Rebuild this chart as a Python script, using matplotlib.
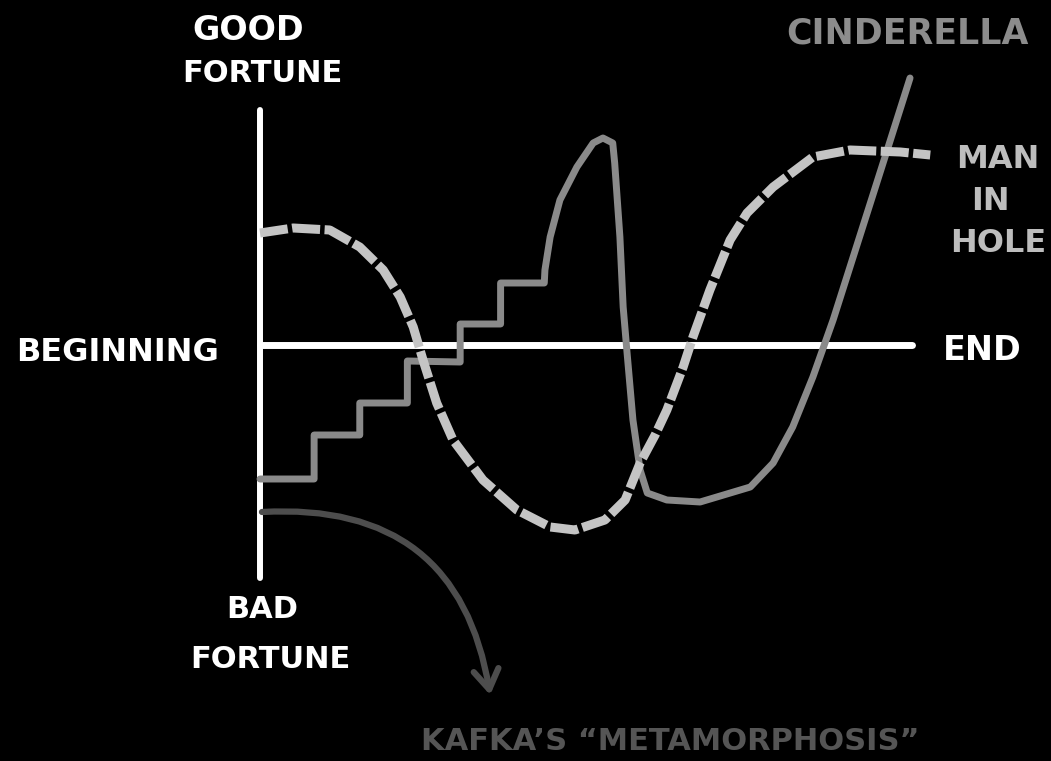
import numpy as np
import matplotlib.pyplot as plt

# story time runs 0 (beginning) -> 100 (end); fortune is + good / - bad
man_hole_t = [0, 5.1, 10.7, 15.3, 18.9, 21.5, 23.5, 25.0, 27.1, 29.6, 34.2, 39.4, 44.5,
              48.3, 52.9, 56.0, 58.3, 60.6, 62.4, 64.9, 66.4, 69.0, 72.1, 74.7, 78.7,
              84.8, 90.5, 98.2, 102.8]
man_hole_f = [1.12, 1.17, 1.15, 0.98, 0.75, 0.48, 0.18, -0.15, -0.58, -0.95, -1.35, -1.65,
              -1.82, -1.85, -1.75, -1.55, -1.18, -0.90, -0.65, -0.22, 0.08, 0.55, 1.05,
              1.32, 1.58, 1.88, 1.95, 1.93, 1.90]

cinderella_t = [0, 8.3, 8.3, 15.3, 15.3, 22.6, 22.6, 30.7, 30.7, 36.9, 36.9, 43.6,
                43.7, 44.5, 46.0, 48.6, 51.1, 52.6, 54.1, 54.4, 55.2, 55.7, 56.3, 57.2,
                58.3, 59.4, 62.4, 67.5, 75.2, 78.7, 81.7, 84.8, 87.9, 96.2, 99.7]
cinderella_f = [-1.34, -1.34, -0.90, -0.90, -0.58, -0.58, -0.16, -0.17, 0.21, 0.21, 0.62,
                0.62, 0.75, 1.08, 1.45, 1.78, 2.02, 2.07, 2.02, 1.82, 1.08, 0.38, -0.08,
                -0.75, -1.25, -1.48, -1.55, -1.57, -1.42, -1.18, -0.82, -0.32, 0.25, 1.95,
                2.67]

kafka_start = (0.3, -1.67)
kafka_end = (35.3, -3.50)

fortune_top, fortune_bottom = 2.35, -2.33

fig = plt.figure(figsize=(10.51, 7.61), dpi=100, facecolor='black')
ax = fig.add_axes([0, 0, 1, 1])
ax.set_facecolor('black')
ax.set_xlim(-39.88, 121.32)
ax.set_ylim(-4.16, 3.45)
ax.axis('off')

# axes
ax.plot([0, 0], [fortune_bottom, fortune_top], color='white', lw=4.3, solid_capstyle='round')
ax.plot([0, 100], [0, 0], color='white', lw=5, solid_capstyle='round')

# stories
ax.plot(cinderella_t, cinderella_f, color='#8a8a8a', lw=5, solid_joinstyle='round',
        solid_capstyle='round')
mh, = ax.plot(man_hole_t, man_hole_f, color='#c4c4c4', lw=6.5, dash_capstyle='butt',
              dash_joinstyle='round')
mh.set_dashes((3.1, 0.5))
ax.annotate('', xy=kafka_end, xytext=kafka_start,
            arrowprops=dict(arrowstyle='->,head_length=0.7,head_width=0.45',
                            connectionstyle='arc3,rad=-0.45', color='#4d4d4d', lw=4.5,
                            mutation_scale=20, shrinkA=0, shrinkB=0))

def label(x, y, s, color='white', size=24):
    fig.text(x / 1051, 1 - y / 761, s, color=color, fontsize=size, fontweight='bold',
             ha='center', va='center')

label(248, 30, 'GOOD', size=24)
label(262, 74, 'FORTUNE', size=22)
label(118, 352, 'BEGINNING', size=23)
label(982, 351, 'END', size=24)
label(262, 610, 'BAD', size=22)
label(270, 660, 'FORTUNE', size=22)
label(907, 33, 'CINDERELLA', color='#8c8c8c', size=25)
label(998, 160, 'MAN', color='#bdbdbd', size=23)
label(990, 202, 'IN', color='#bdbdbd', size=23)
label(998, 243, 'HOLE', color='#bdbdbd', size=23)
label(670, 742, 'KAFKA\u2019S \u201cMETAMORPHOSIS\u201d', color='#555555', size=22)

fig.savefig('out.png', dpi=100, facecolor='black')
